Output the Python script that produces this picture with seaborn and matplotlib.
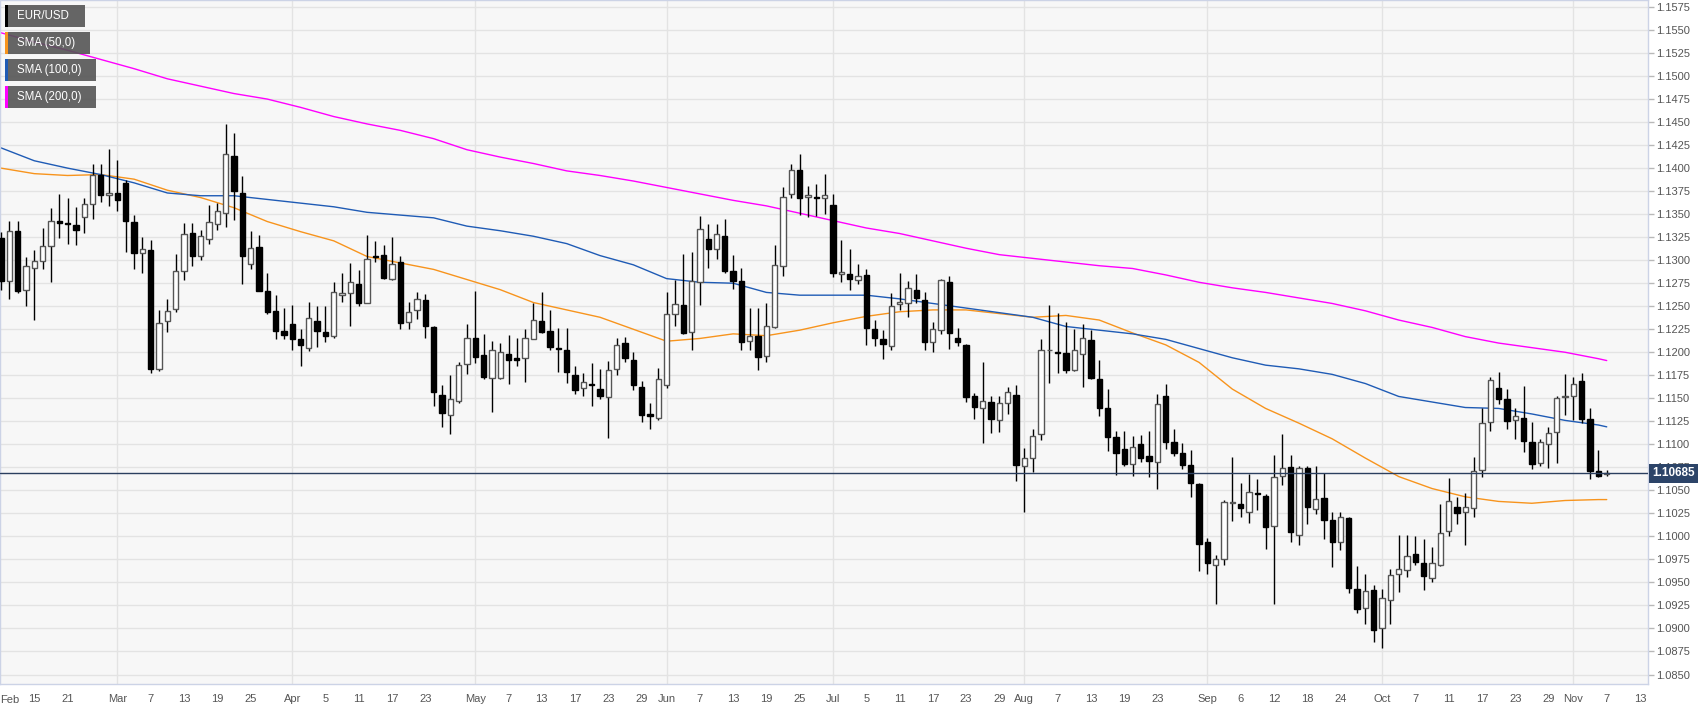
import numpy as np
import pandas as pd
import matplotlib
matplotlib.use("Agg")
import matplotlib.pyplot as plt
import matplotlib.transforms as mtransforms
from matplotlib.patches import Rectangle
import seaborn as sns

# ---------------- data ----------------
start_date = "2019-02-11"
end_date = "2019-11-07"

opens = [1.1324, 1.1277, 1.1332, 1.1268, 1.1292, 1.1299, 1.1315, 1.1343, 1.1340, 1.1338,
         1.1347, 1.1361, 1.1392, 1.1371, 1.1373, 1.1384, 1.1342, 1.1308, 1.1311, 1.1182,
         1.1234, 1.1247, 1.1288, 1.1329, 1.1305, 1.1323, 1.1339, 1.1351, 1.1413, 1.1373,
         1.1296, 1.1314, 1.1266, 1.1245, 1.1223, 1.1231, 1.1214, 1.1205, 1.1234, 1.1222,
         1.1218, 1.1262, 1.1264, 1.1274, 1.1254, 1.1305, 1.1306, 1.1280, 1.1298, 1.1233,
         1.1246, 1.1257, 1.1227, 1.1154, 1.1132, 1.1147, 1.1187, 1.1215, 1.1197, 1.1172,
         1.1172, 1.1198, 1.1194, 1.1194, 1.1214, 1.1234, 1.1223, 1.1205, 1.1202, 1.1175,
         1.1161, 1.1166, 1.1160, 1.1151, 1.1182, 1.1210, 1.1192, 1.1162, 1.1133, 1.1129,
         1.1164, 1.1242, 1.1251, 1.1222, 1.1276, 1.1323, 1.1312, 1.1326, 1.1288, 1.1277,
         1.1212, 1.1218, 1.1196, 1.1227, 1.1294, 1.1372, 1.1398, 1.1369, 1.1369, 1.1368,
         1.1360, 1.1285, 1.1285, 1.1278, 1.1284, 1.1225, 1.1214, 1.1207, 1.1252, 1.1254,
         1.1268, 1.1257, 1.1211, 1.1224, 1.1276, 1.1216, 1.1208, 1.1152, 1.1140, 1.1146,
         1.1126, 1.1145, 1.1154, 1.1076, 1.1085, 1.1111, 1.1202, 1.1200, 1.1199, 1.1181,
         1.1198, 1.1213, 1.1171, 1.1139, 1.1108, 1.1095, 1.1079, 1.1100, 1.1087, 1.1081,
         1.1152, 1.1103, 1.1091, 1.1078, 1.1057, 1.0994, 1.0969, 1.0976, 1.1036, 1.1035,
         1.1027, 1.1047, 1.1044, 1.1011, 1.1066, 1.1075, 1.1002, 1.1074, 1.1030, 1.1042,
         1.1018, 1.0994, 1.1020, 1.0943, 1.0922, 1.0942, 1.0900, 1.0931, 1.0959, 1.0964,
         1.0981, 1.0971, 1.0955, 1.0969, 1.1006, 1.1032, 1.1027, 1.1031, 1.1072, 1.1124,
         1.1161, 1.1149, 1.1126, 1.1129, 1.1103, 1.1080, 1.1100, 1.1113, 1.1151, 1.1153,
         1.1169, 1.1128, 1.1071, 1.1068]
highs = [1.1331, 1.1343, 1.1343, 1.1304, 1.1311, 1.1335, 1.1357, 1.1372, 1.1368, 1.1358,
         1.1368, 1.1404, 1.1405, 1.1421, 1.1409, 1.1387, 1.1349, 1.1325, 1.1322, 1.1246,
         1.1258, 1.1307, 1.1340, 1.1340, 1.1333, 1.1360, 1.1362, 1.1448, 1.1438, 1.1391,
         1.1332, 1.1327, 1.1286, 1.1262, 1.1248, 1.1251, 1.1225, 1.1255, 1.1250, 1.1250,
         1.1276, 1.1286, 1.1297, 1.1289, 1.1327, 1.1321, 1.1316, 1.1325, 1.1305, 1.1255,
         1.1265, 1.1263, 1.1229, 1.1164, 1.1175, 1.1189, 1.1231, 1.1267, 1.1220, 1.1212,
         1.1210, 1.1219, 1.1215, 1.1225, 1.1254, 1.1265, 1.1246, 1.1226, 1.1226, 1.1185,
         1.1177, 1.1188, 1.1182, 1.1190, 1.1215, 1.1217, 1.1200, 1.1169, 1.1145, 1.1183,
         1.1265, 1.1279, 1.1307, 1.1309, 1.1348, 1.1339, 1.1339, 1.1345, 1.1306, 1.1291,
         1.1248, 1.1248, 1.1254, 1.1317, 1.1379, 1.1404, 1.1415, 1.1381, 1.1383, 1.1394,
         1.1372, 1.1322, 1.1312, 1.1296, 1.1290, 1.1235, 1.1224, 1.1264, 1.1286, 1.1277,
         1.1285, 1.1265, 1.1233, 1.1280, 1.1283, 1.1226, 1.1209, 1.1156, 1.1189, 1.1152,
         1.1152, 1.1162, 1.1164, 1.1096, 1.1117, 1.1214, 1.1251, 1.1243, 1.1233, 1.1225,
         1.1231, 1.1224, 1.1192, 1.1160, 1.1114, 1.1114, 1.1109, 1.1110, 1.1114, 1.1155,
         1.1166, 1.1117, 1.1101, 1.1094, 1.1058, 1.0998, 1.0980, 1.1040, 1.1086, 1.1058,
         1.1068, 1.1062, 1.1046, 1.1088, 1.1111, 1.1088, 1.1076, 1.1076, 1.1076, 1.1069,
         1.1026, 1.1027, 1.1021, 1.0968, 1.0959, 1.0947, 1.0943, 1.0965, 1.1001, 1.1001,
         1.1000, 1.0997, 1.0989, 1.1035, 1.1063, 1.1043, 1.1047, 1.1086, 1.1140, 1.1173,
         1.1179, 1.1160, 1.1140, 1.1163, 1.1124, 1.1106, 1.1119, 1.1152, 1.1176, 1.1173,
         1.1178, 1.1140, 1.1094, 1.1072]
lows = [1.1268, 1.1258, 1.1264, 1.1250, 1.1235, 1.1290, 1.1276, 1.1324, 1.1318, 1.1316,
        1.1329, 1.1345, 1.1363, 1.1359, 1.1353, 1.1309, 1.1290, 1.1286, 1.1177, 1.1180,
        1.1222, 1.1244, 1.1279, 1.1294, 1.1300, 1.1318, 1.1333, 1.1336, 1.1344, 1.1274,
        1.1290, 1.1266, 1.1242, 1.1214, 1.1214, 1.1203, 1.1185, 1.1201, 1.1206, 1.1211,
        1.1216, 1.1255, 1.1229, 1.1250, 1.1253, 1.1298, 1.1280, 1.1279, 1.1225, 1.1225,
        1.1236, 1.1216, 1.1142, 1.1119, 1.1111, 1.1145, 1.1176, 1.1188, 1.1171, 1.1135,
        1.1171, 1.1166, 1.1185, 1.1168, 1.1214, 1.1221, 1.1202, 1.1179, 1.1167, 1.1155,
        1.1152, 1.1142, 1.1149, 1.1107, 1.1175, 1.1189, 1.1159, 1.1124, 1.1117, 1.1126,
        1.1161, 1.1229, 1.1220, 1.1202, 1.1251, 1.1291, 1.1301, 1.1286, 1.1269, 1.1203,
        1.1203, 1.1181, 1.1189, 1.1226, 1.1283, 1.1368, 1.1349, 1.1347, 1.1348, 1.1350,
        1.1282, 1.1276, 1.1268, 1.1274, 1.1208, 1.1207, 1.1193, 1.1202, 1.1246, 1.1238,
        1.1254, 1.1202, 1.1200, 1.1220, 1.1204, 1.1207, 1.1146, 1.1127, 1.1101, 1.1112,
        1.1113, 1.1133, 1.1060, 1.1027, 1.1070, 1.1105, 1.1167, 1.1178, 1.1177, 1.1180,
        1.1162, 1.1171, 1.1131, 1.1093, 1.1067, 1.1076, 1.1066, 1.1081, 1.1064, 1.1052,
        1.1095, 1.1087, 1.1073, 1.1043, 1.0962, 1.0959, 1.0927, 1.0969, 1.1017, 1.1021,
        1.1015, 1.1029, 1.0986, 1.0927, 1.1056, 1.0994, 1.0991, 1.1014, 1.1024, 1.0997,
        1.0967, 1.0985, 1.0939, 1.0917, 1.0905, 1.0885, 1.0879, 1.0905, 1.0940, 1.0956,
        1.0969, 1.0942, 1.0950, 1.0968, 1.1000, 1.1013, 1.0991, 1.1021, 1.1065, 1.1114,
        1.1144, 1.1117, 1.1106, 1.1092, 1.1073, 1.1076, 1.1074, 1.1080, 1.1132, 1.1126,
        1.1123, 1.1062, 1.1064, 1.1066]
closes = [1.1277, 1.1332, 1.1266, 1.1294, 1.1299, 1.1315, 1.1343, 1.1340, 1.1339, 1.1333,
          1.1361, 1.1392, 1.1371, 1.1373, 1.1365, 1.1343, 1.1308, 1.1312, 1.1182, 1.1232,
          1.1245, 1.1288, 1.1328, 1.1305, 1.1326, 1.1341, 1.1353, 1.1415, 1.1375, 1.1305,
          1.1313, 1.1267, 1.1244, 1.1223, 1.1219, 1.1214, 1.1208, 1.1237, 1.1223, 1.1218,
          1.1265, 1.1264, 1.1276, 1.1254, 1.1301, 1.1304, 1.1281, 1.1296, 1.1232, 1.1244,
          1.1258, 1.1228, 1.1157, 1.1134, 1.1149, 1.1186, 1.1215, 1.1195, 1.1173, 1.1203,
          1.1200, 1.1192, 1.1192, 1.1216, 1.1235, 1.1222, 1.1206, 1.1204, 1.1179, 1.1159,
          1.1168, 1.1164, 1.1153, 1.1181, 1.1208, 1.1194, 1.1164, 1.1132, 1.1131, 1.1171,
          1.1242, 1.1252, 1.1221, 1.1277, 1.1334, 1.1312, 1.1328, 1.1288, 1.1277, 1.1211,
          1.1218, 1.1195, 1.1229, 1.1295, 1.1369, 1.1398, 1.1368, 1.1371, 1.1368, 1.1371,
          1.1286, 1.1287, 1.1280, 1.1283, 1.1226, 1.1215, 1.1209, 1.1250, 1.1255, 1.1270,
          1.1259, 1.1211, 1.1225, 1.1279, 1.1221, 1.1211, 1.1151, 1.1141, 1.1147, 1.1128,
          1.1145, 1.1157, 1.1078, 1.1085, 1.1109, 1.1203, 1.1203, 1.1199, 1.1181, 1.1202,
          1.1215, 1.1172, 1.1140, 1.1108, 1.1091, 1.1079, 1.1097, 1.1085, 1.1082, 1.1144,
          1.1102, 1.1091, 1.1078, 1.1058, 1.0992, 1.0971, 1.0975, 1.1037, 1.1037, 1.1031,
          1.1048, 1.1046, 1.1010, 1.1064, 1.1074, 1.1005, 1.1074, 1.1032, 1.1041, 1.1018,
          1.0994, 1.1021, 1.0944, 1.0921, 1.0941, 1.0898, 1.0933, 1.0958, 1.0965, 1.0979,
          1.0972, 1.0957, 1.0971, 1.1004, 1.1038, 1.1025, 1.1032, 1.1071, 1.1123, 1.1170,
          1.1149, 1.1125, 1.1131, 1.1104, 1.1079, 1.1102, 1.1112, 1.1150, 1.1153, 1.1166,
          1.1128, 1.1071, 1.1066, 1.10685]

# moving averages every 4th session (last value = last session)
sma_step = 4
sma50 = [1.1400, 1.1394, 1.1392, 1.1393, 1.1388, 1.1376, 1.1368, 1.1357, 1.1342, 1.1331,
         1.1321, 1.1304, 1.1297, 1.1290, 1.1279, 1.1268, 1.1254, 1.1246, 1.1238, 1.1225,
         1.1212, 1.1215, 1.1220, 1.1218, 1.1224, 1.1232, 1.1239, 1.1244, 1.1246, 1.1246,
         1.1242, 1.1238, 1.1240, 1.1235, 1.1221, 1.1208, 1.1189, 1.1160, 1.1139, 1.1123,
         1.1106, 1.1085, 1.1065, 1.1052, 1.1043, 1.1038, 1.1036, 1.1039, 1.1040, 1.1040]
sma100 = [1.1422, 1.1408, 1.1400, 1.1393, 1.1384, 1.1373, 1.1370, 1.1370, 1.1366, 1.1362,
          1.1358, 1.1352, 1.1349, 1.1346, 1.1337, 1.1332, 1.1326, 1.1318, 1.1305, 1.1295,
          1.1280, 1.1276, 1.1275, 1.1265, 1.1262, 1.1262, 1.1262, 1.1258, 1.1253, 1.1248,
          1.1243, 1.1238, 1.1228, 1.1224, 1.1220, 1.1214, 1.1204, 1.1194, 1.1186, 1.1182,
          1.1176, 1.1166, 1.1152, 1.1146, 1.1140, 1.1139, 1.1133, 1.1126, 1.1121, 1.1119]
sma200 = [1.1547, 1.1537, 1.1528, 1.1518, 1.1508, 1.1497, 1.1489, 1.1481, 1.1475, 1.1466,
          1.1456, 1.1448, 1.1441, 1.1432, 1.1420, 1.1412, 1.1405, 1.1397, 1.1392, 1.1386,
          1.1379, 1.1372, 1.1365, 1.1359, 1.1351, 1.1343, 1.1335, 1.1329, 1.1321, 1.1313,
          1.1306, 1.1302, 1.1298, 1.1294, 1.1291, 1.1284, 1.1276, 1.1270, 1.1265, 1.1259,
          1.1253, 1.1245, 1.1235, 1.1227, 1.1217, 1.1210, 1.1205, 1.1200, 1.1193, 1.1191]

last_price = 1.10685
price_tick_low = 1.0850
price_tick_high = 1.1575
price_tick_step = 0.0025

tick_dates = ["2019-02-15", "2019-02-21", "2019-03-01", "2019-03-07", "2019-03-13", "2019-03-19",
              "2019-03-25", "2019-04-01", "2019-04-05", "2019-04-11", "2019-04-17", "2019-04-23",
              "2019-05-01", "2019-05-07", "2019-05-13", "2019-05-17", "2019-05-23", "2019-05-29",
              "2019-06-03", "2019-06-07", "2019-06-13", "2019-06-19", "2019-06-25", "2019-07-01",
              "2019-07-05", "2019-07-11", "2019-07-17", "2019-07-23", "2019-07-29", "2019-08-01",
              "2019-08-07", "2019-08-13", "2019-08-19", "2019-08-23", "2019-09-02", "2019-09-06",
              "2019-09-12", "2019-09-18", "2019-09-24", "2019-10-01", "2019-10-07", "2019-10-11",
              "2019-10-17", "2019-10-23", "2019-10-29", "2019-11-01", "2019-11-07", "2019-11-13"]
tick_labels = ["15", "21", "Mar", "7", "13", "19", "25", "Apr", "5", "11", "17", "23",
               "May", "7", "13", "17", "23", "29", "Jun", "7", "13", "19", "25", "Jul",
               "5", "11", "17", "23", "29", "Aug", "7", "13", "19", "23", "Sep", "6",
               "12", "18", "24", "Oct", "7", "11", "17", "23", "29", "Nov", "7", "13"]
month_starts = ["2019-03-01", "2019-04-01", "2019-05-01", "2019-06-03", "2019-07-01",
                "2019-08-01", "2019-09-02", "2019-10-01", "2019-11-01"]
first_month_label = "Feb"

legend_labels = ["EUR/USD", "SMA (50,0)", "SMA (100,0)", "SMA (200,0)"]
legend_colors = ["#000000", "#f7941d", "#1f5bb5", "#ff00ff"]

# ---------------- layout ----------------
W, H = 1707, 711
sns.set_style("white")
plt.rcParams["font.family"] = ["Liberation Sans", "DejaVu Sans"]

fig = plt.figure(figsize=(W / 100, H / 100), dpi=100)
fig.patch.set_facecolor("white")
ax = fig.add_axes([0.0, (H - 684) / H, 1648 / W, 684 / H])
ax.set_facecolor("#f7f7f7")

# business-day calendar (future dates extend the axis for the last tick)
cal = pd.bdate_range(start_date, "2019-11-15")
pos = {d.strftime("%Y-%m-%d"): i for i, d in enumerate(cal)}
n = len(opens)
idx = np.arange(n)

o = np.array(opens); h = np.array(highs); l = np.array(lows); c = np.array(closes)
up = c >= o

# grid
yt = np.round(np.arange(price_tick_low, price_tick_high + 1e-9, price_tick_step), 4)
for y in yt:
    ax.axhline(y, color="#e3e3e3", lw=1.0, zorder=0)
for d in month_starts:
    ax.axvline(pos[d], color="#e3e3e3", lw=1.0, zorder=0)

# SMAs via seaborn
sma_x = list(range(0, n, sma_step)) + [n - 1]
sma_df = pd.DataFrame({"x": sma_x * 3,
                       "v": sma50 + sma100 + sma200,
                       "s": ["SMA50"] * len(sma_x) + ["SMA100"] * len(sma_x) + ["SMA200"] * len(sma_x)})
sns.lineplot(data=sma_df, x="x", y="v", hue="s",
             palette={"SMA50": legend_colors[1], "SMA100": legend_colors[2], "SMA200": legend_colors[3]},
             linewidth=1.0, legend=False, ax=ax, zorder=2)

# candles
ax.vlines(idx, l, h, color="black", lw=1.0, zorder=3)
body_lo = np.minimum(o, c)
body_h = np.maximum(np.abs(c - o), 0.00005)
ax.bar(idx[up], body_h[up], bottom=body_lo[up], width=0.64,
       color="white", edgecolor="#555555", linewidth=1.0, zorder=4)
ax.bar(idx[~up], body_h[~up], bottom=body_lo[~up], width=0.64,
       color="black", edgecolor="black", linewidth=1.0, zorder=4)

# last price line + label
ax.axhline(last_price, color="#2b3f5f", lw=1.0, zorder=5)
trans = mtransforms.blended_transform_factory(ax.transAxes, ax.transData)
ax.text(1.0 + 4 / 1648, last_price, f"{last_price:.5f}", transform=trans,
        ha="left", va="center", color="white", fontsize=8.5, fontweight="bold",
        bbox=dict(boxstyle="square,pad=0.28", fc="#2c4468", ec="none"),
        clip_on=False, zorder=20)

# axes limits (pixel-matched)
ax.set_xlim(-0.12, 197.96)
ax.set_ylim(1.08397, 1.15826)

# ticks
ax.yaxis.tick_right()
ax.set_yticks(yt)
ax.set_yticklabels([f"{v:.4f}" for v in yt])
ax.set_xticks([pos[d] for d in tick_dates])
ax.set_xticklabels(tick_labels)
ax.tick_params(axis="both", which="major", length=4, width=1, color="#b8b8b8",
               labelcolor="#555555", labelsize=8)
ax.tick_params(axis="y", pad=2)
ax.tick_params(axis="x", pad=3)
ax.text(0.0, -11 / 684, first_month_label, transform=ax.transAxes, ha="left", va="top",
        fontsize=8, color="#555555", clip_on=False)
ax.set_xlabel("")
ax.set_ylabel("")
for sp in ax.spines.values():
    sp.set_color("#ccd3e6")
    sp.set_linewidth(1.0)
    sp.set_visible(True)

# legend boxes (pixel layout)
boxes = [(5, 5, 85, 27), (5, 32, 90, 54), (5, 59, 96, 81), (5, 86, 96, 108)]
for (x0, y0, x1, y1), lab, col in zip(boxes, legend_labels, legend_colors):
    fig.add_artist(Rectangle((x0 / W, 1 - y1 / H), (x1 - x0) / W, (y1 - y0) / H,
                             transform=fig.transFigure, facecolor="#555555", alpha=0.9,
                             edgecolor="none", zorder=30))
    fig.add_artist(Rectangle((x0 / W, 1 - y1 / H), 3 / W, (y1 - y0) / H,
                             transform=fig.transFigure, facecolor=col, edgecolor="none", zorder=31))
    fig.text(17 / W, 1 - ((y0 + y1) / 2) / H, lab, color="white", fontsize=8.3,
             ha="left", va="center", zorder=32)

fig.savefig("out.png", dpi=100, facecolor=fig.get_facecolor())
